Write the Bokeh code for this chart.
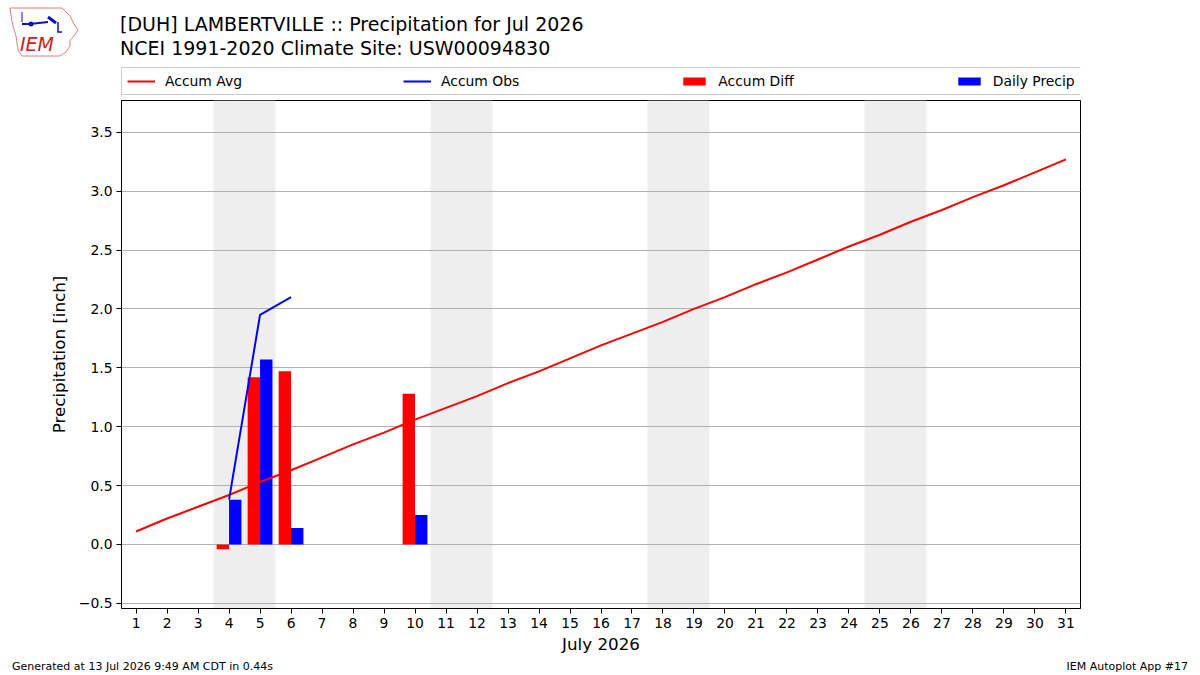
import datetime
from bokeh.plotting import figure
from bokeh.layouts import column
from bokeh.models import (Legend, LegendItem, Range1d, FixedTicker, Div,
                          CustomJSTickFormatter, ColumnDataSource, BoxAnnotation)
from bokeh.transform import dodge
from bokeh.embed import file_html
from bokeh.resources import INLINE

# ---------------- data ----------------
YEAR, MONTH = 2026, 7
days = list(range(1, 32))
accum_avg = [0.11, 0.22, 0.32, 0.42, 0.53, 0.63, 0.74, 0.85, 0.95, 1.06,
             1.16, 1.26, 1.37, 1.47, 1.58, 1.69, 1.79, 1.89, 2.00, 2.10,
             2.21, 2.31, 2.42, 2.53, 2.63, 2.74, 2.84, 2.95, 3.05, 3.16, 3.27]
obs_days = [4, 5, 6]
accum_obs = [0.38, 1.95, 2.10]
diff_days = [4, 5, 6, 10]
accum_diff = [-0.04, 1.42, 1.47, 1.28]
precip_days = [4, 5, 6, 10]
daily_precip = [0.38, 1.57, 0.14, 0.25]
y_ticks = [-0.5, 0.0, 0.5, 1.0, 1.5, 2.0, 2.5, 3.0, 3.5]
x_ticks = days
title1 = "[DUH] LAMBERTVILLE :: Precipitation for Jul 2026"
title2 = "NCEI 1991-2020 Climate Site: USW00094830"
xlabel = "July 2026"
ylabel = "Precipitation [inch]"
footer_left = "Generated at 13 Jul 2026 9:49 AM CDT in 0.44s"
footer_right = "IEM Autoplot App #17"
legend_labels = ["Accum Avg", "Accum Obs", "Accum Diff", "Daily Precip"]

FONT = "DejaVu Sans"
W = 1200
HEAD_H = 64
LEG_H = 35
FOOT_H = 15
MAIN_H = 675 - HEAD_H - LEG_H - FOOT_H
ML, MR, MT = 121, 120, 1
FRAME_H = 508
MB = MAIN_H - MT - FRAME_H
X0, X1 = 0.53, 31.47
Y0, Y1 = -0.544, 3.77

src_avg = ColumnDataSource(dict(x=days, y=accum_avg))
src_obs = ColumnDataSource(dict(x=obs_days, y=accum_obs))
src_diff = ColumnDataSource(dict(x=diff_days, y=accum_diff))
src_prec = ColumnDataSource(dict(x=precip_days, y=daily_precip))

COL_RED, COL_BLUE = "#ff0000", "#0000ff"

# ---------------- header (logo + titles) ----------------
logo_svg = (
    '<svg width="80" height="60" style="position:absolute;left:0;top:0">'
    '<polygon points="10,8 62,8 66,12 70,16 74,24 78,30 74,36 70,40 70,46 66,52 '
    '60,56 22,56 18,50 16,36 12,22 10,8" fill="white" stroke="#e08080" stroke-width="1"/>'
    '<polyline points="22,24 30,24 48,22" fill="none" stroke="#1010c0" stroke-width="2"/>'
    '<polyline points="48,17 56,23" fill="none" stroke="#1010c0" stroke-width="3"/>'
    '<polyline points="58,22 58,32 62,32" fill="none" stroke="#1010c0" stroke-width="1.5"/>'
    '<polyline points="22,12 22,22" fill="none" stroke="#1010c0" stroke-width="1"/>'
    '<circle cx="31" cy="24" r="2.5" fill="#1010c0"/>'
    '<text x="20" y="51" fill="#d02020" font-family="Liberation Serif" '
    'font-style="italic" font-size="19px">IEM</text>'
    '</svg>')
head_html = (
    f'<div style="position:relative;width:{W}px;height:{HEAD_H}px;'
    f'font-family:\'{FONT}\';color:black;">'
    + logo_svg +
    f'<div style="position:absolute;left:120px;top:12px;font-size:19px;'
    f'line-height:24px;white-space:nowrap;">{title1}<br>{title2}</div>'
    '</div>')
head = Div(text=head_html, width=W, height=HEAD_H, margin=0)

# ---------------- legend strip ----------------
lf = figure(width=W, height=LEG_H, x_range=Range1d(X0, X1), y_range=Range1d(100, 101),
            output_backend="svg", toolbar_location=None,
            min_border_left=ML, min_border_right=MR, min_border_top=0,
            min_border_bottom=0)
lf.axis.visible = False
lf.grid.visible = False
lf.outline_line_color = None
lf.background_fill_color = "white"
lf.border_fill_color = "white"
l_avg = lf.line("x", "y", source=src_avg, line_color=COL_RED, line_width=2)
l_obs = lf.line("x", "y", source=src_obs, line_color=COL_BLUE, line_width=2)
l_diff = lf.vbar(x="x", top="y", width=0.4, source=src_diff,
                 fill_color=COL_RED, line_color=None)
l_prec = lf.vbar(x="x", top="y", width=0.4, source=src_prec,
                 fill_color=COL_BLUE, line_color=None)
legend = Legend(items=[LegendItem(label=legend_labels[0], renderers=[l_avg]),
                       LegendItem(label=legend_labels[1], renderers=[l_obs]),
                       LegendItem(label=legend_labels[2], renderers=[l_diff]),
                       LegendItem(label=legend_labels[3], renderers=[l_prec])],
                orientation="horizontal", location=(0, 4),
                spacing=161, padding=5, margin=0, glyph_width=28,
                glyph_height=10, label_height=14, label_standoff=10,
                label_text_font=FONT, label_text_font_size="13.9px",
                label_text_color="black",
                border_line_color="#cccccc", border_line_alpha=1,
                border_line_width=1, background_fill_color="white",
                background_fill_alpha=1)
lf.add_layout(legend)

# ---------------- main plot ----------------
p = figure(width=W, height=MAIN_H, x_range=Range1d(X0, X1), y_range=Range1d(Y0, Y1),
           output_backend="svg", toolbar_location=None,
           min_border_left=ML, min_border_right=MR, min_border_top=MT,
           min_border_bottom=MB)
p.background_fill_color = "white"
p.border_fill_color = "white"
p.outline_line_color = "black"
p.outline_line_alpha = 1
p.outline_line_width = 1
p.xgrid.visible = False
p.ygrid.grid_line_color = "#b0b0b0"
p.ygrid.grid_line_alpha = 1
p.ygrid.grid_line_width = 1

# weekend shading (merged consecutive weekend days)
weekend = [d for d in days if datetime.date(YEAR, MONTH, d).weekday() >= 5]
spans = []
for d in weekend:
    if spans and spans[-1][1] == d - 1:
        spans[-1][1] = d
    else:
        spans.append([d, d])
for a, b in spans:
    p.add_layout(BoxAnnotation(left=a - 0.5, right=b + 0.5, fill_color="#eeeeee",
                               fill_alpha=1, line_alpha=0, level="image"))

p.vbar(x=dodge("x", -0.2, range=p.x_range), top="y", bottom=0, width=0.4,
       source=src_diff, fill_color=COL_RED, line_color=None)
p.vbar(x=dodge("x", 0.2, range=p.x_range), top="y", bottom=0, width=0.4,
       source=src_prec, fill_color=COL_BLUE, line_color=None)
p.line("x", "y", source=src_avg, line_color=COL_RED, line_width=2)
p.line("x", "y", source=src_obs, line_color=COL_BLUE, line_width=2)

for ax in (p.xaxis[0], p.yaxis[0]):
    ax.axis_line_color = "black"
    ax.major_tick_line_color = "black"
    ax.major_tick_out = 5
    ax.major_tick_in = 0
    ax.minor_tick_line_color = None
    ax.major_label_text_font = FONT
    ax.major_label_text_font_size = "13.9px"
    ax.major_label_text_color = "black"
    ax.axis_label_text_font = FONT
    ax.axis_label_text_font_size = "16.7px"
    ax.axis_label_text_font_style = "normal"
    ax.axis_label_text_color = "black"

p.xaxis.ticker = FixedTicker(ticks=x_ticks)
p.xaxis.axis_label = xlabel
p.xaxis.major_label_standoff = 4
p.xaxis.axis_label_standoff = 3
p.yaxis.ticker = FixedTicker(ticks=y_ticks)
p.yaxis.formatter = CustomJSTickFormatter(
    code="return (tick < 0 ? '\\u2212' : '') + Math.abs(tick).toFixed(1);")
p.yaxis.axis_label = ylabel
p.yaxis.major_label_standoff = 4
p.yaxis.axis_label_standoff = 7

# ---------------- footer ----------------
foot_html = (
    f'<div style="position:relative;width:{W}px;height:{FOOT_H}px;'
    f'font-family:\'{FONT}\';font-size:11px;color:black;line-height:13px;">'
    f'<div style="position:absolute;left:12px;top:0px;white-space:nowrap;">{footer_left}</div>'
    f'<div style="position:absolute;right:12px;top:0px;white-space:nowrap;">{footer_right}</div>'
    '</div>')
foot = Div(text=foot_html, width=W, height=FOOT_H, margin=0)

layout = column(head, lf, p, foot, spacing=0)
open("out.html", "w").write(file_html(layout, INLINE))
